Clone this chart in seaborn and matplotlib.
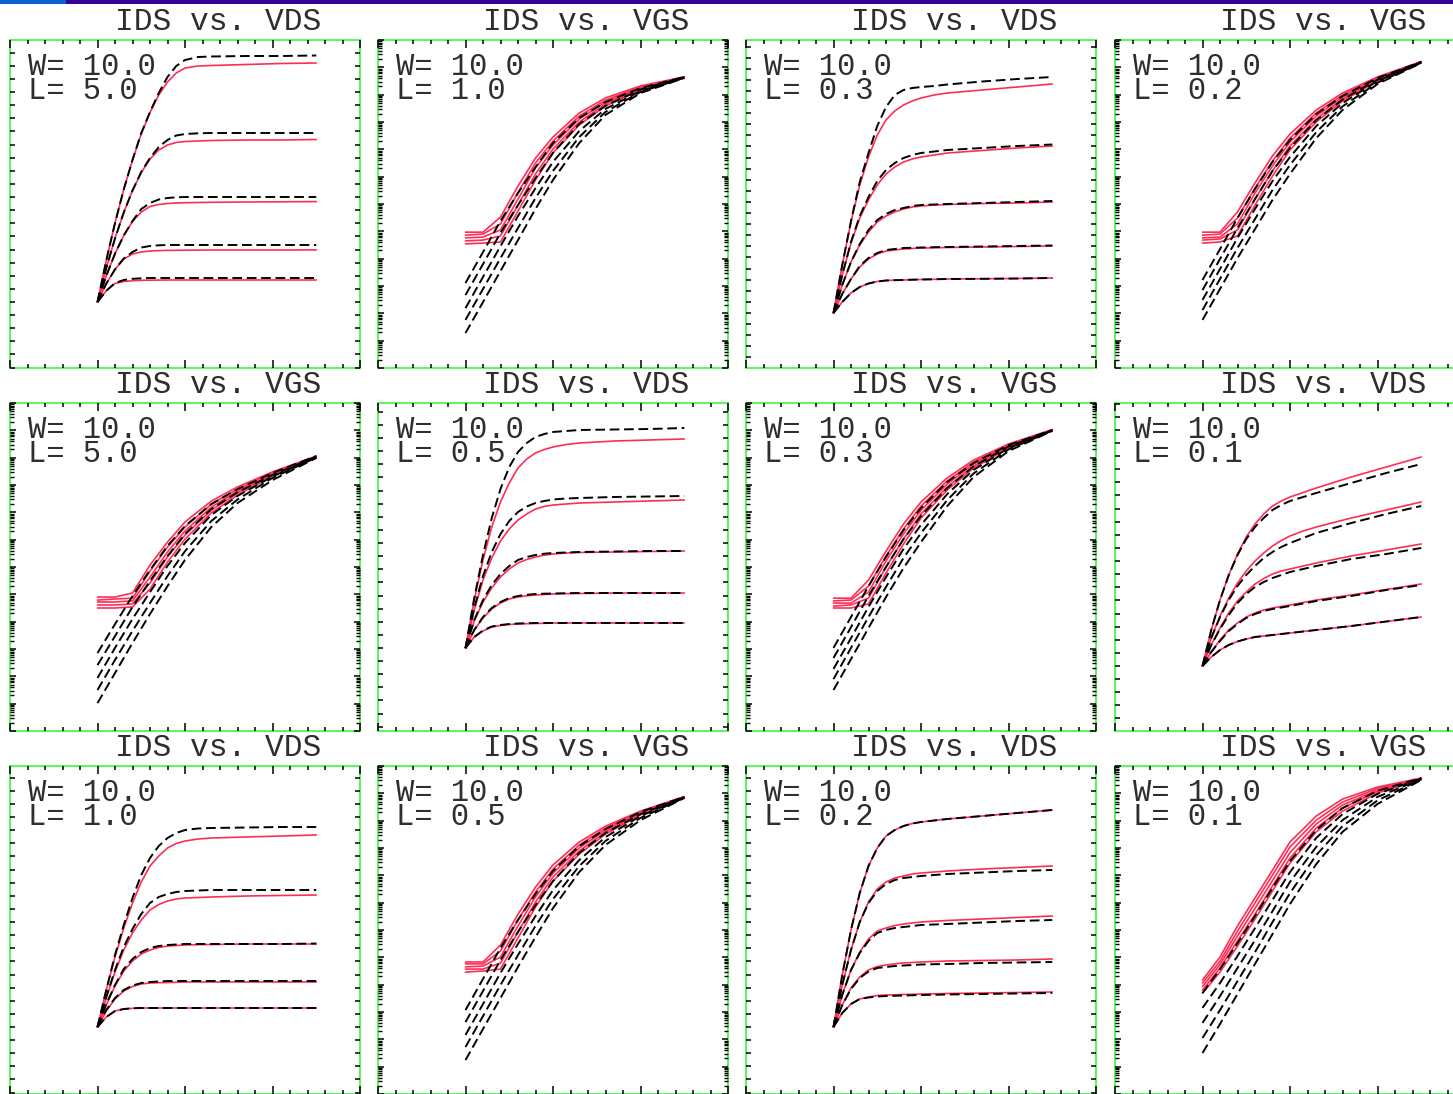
import numpy as np
import matplotlib
matplotlib.use("Agg")
import matplotlib.pyplot as plt
import seaborn as sns
from matplotlib.ticker import MultipleLocator, LogLocator, NullFormatter
from matplotlib.patches import Rectangle

# ---------------------------------------------------------------- sweep axes
vds = [0.0, 0.1, 0.2, 0.3, 0.4, 0.5, 0.6, 0.7, 0.8, 0.9, 1.0, 1.15, 1.3, 1.7, 2.1, 2.5]  # V
vgs = [0.0, 0.2, 0.4, 0.6, 0.8, 1.0, 1.3, 1.6, 2.0, 2.5]                                  # V

# ------------------------------------------- IDS [mA] vs VDS, five VGS steps
idvd_L5_meas = [
    [0, 0.415, 0.79, 1.126, 1.42, 1.68, 1.896, 2.07, 2.20, 2.29, 2.34, 2.36, 2.365, 2.375, 2.385, 2.39],
    [0, 0.338, 0.636, 0.895, 1.115, 1.295, 1.43, 1.52, 1.57, 1.595, 1.605, 1.61, 1.615, 1.62, 1.62, 1.625],
    [0, 0.261, 0.483, 0.665, 0.805, 0.90, 0.955, 0.975, 0.985, 0.99, 0.993, 0.995, 0.997, 1.0, 1.002, 1.004],
    [0, 0.183, 0.326, 0.43, 0.48, 0.50, 0.51, 0.514, 0.516, 0.517, 0.518, 0.519, 0.52, 0.52, 0.52, 0.521],
    [0, 0.112, 0.185, 0.205, 0.213, 0.217, 0.218, 0.219, 0.22, 0.22, 0.22, 0.22, 0.22, 0.22, 0.22, 0.22],
]
idvd_L5_sim = [
    [0, 0.415, 0.79, 1.126, 1.42, 1.69, 1.90, 2.09, 2.25, 2.36, 2.42, 2.45, 2.455, 2.46, 2.46, 2.465],
    [0, 0.338, 0.636, 0.895, 1.115, 1.30, 1.44, 1.55, 1.62, 1.665, 1.68, 1.687, 1.69, 1.69, 1.69, 1.69],
    [0, 0.261, 0.483, 0.665, 0.81, 0.93, 0.99, 1.025, 1.04, 1.047, 1.05, 1.05, 1.05, 1.05, 1.05, 1.05],
    [0, 0.183, 0.326, 0.435, 0.50, 0.545, 0.56, 0.567, 0.57, 0.57, 0.57, 0.57, 0.57, 0.57, 0.57, 0.57],
    [0, 0.112, 0.19, 0.22, 0.232, 0.237, 0.24, 0.24, 0.24, 0.24, 0.24, 0.24, 0.24, 0.24, 0.24, 0.24],
]
idvd_L03_meas = [
    [0, 0.48, 0.91, 1.28, 1.56, 1.78, 1.93, 2.02, 2.08, 2.12, 2.15, 2.18, 2.20, 2.23, 2.26, 2.29],
    [0, 0.38, 0.70, 0.95, 1.13, 1.28, 1.39, 1.46, 1.51, 1.54, 1.56, 1.58, 1.60, 1.625, 1.65, 1.67],
    [0, 0.28, 0.51, 0.68, 0.81, 0.91, 0.97, 1.01, 1.04, 1.06, 1.07, 1.08, 1.085, 1.095, 1.10, 1.11],
    [0, 0.19, 0.34, 0.46, 0.54, 0.59, 0.62, 0.63, 0.64, 0.645, 0.65, 0.652, 0.655, 0.66, 0.665, 0.67],
    [0, 0.11, 0.20, 0.26, 0.295, 0.315, 0.325, 0.328, 0.33, 0.333, 0.335, 0.337, 0.34, 0.342, 0.345, 0.35],
]
idvd_L03_sim = [
    [0, 0.48, 0.92, 1.31, 1.60, 1.87, 2.06, 2.18, 2.23, 2.25, 2.26, 2.27, 2.285, 2.315, 2.34, 2.36],
    [0, 0.38, 0.71, 0.97, 1.16, 1.32, 1.43, 1.50, 1.55, 1.58, 1.60, 1.615, 1.63, 1.65, 1.67, 1.685],
    [0, 0.28, 0.51, 0.69, 0.83, 0.93, 0.99, 1.03, 1.05, 1.07, 1.08, 1.085, 1.09, 1.10, 1.11, 1.12],
    [0, 0.19, 0.34, 0.47, 0.55, 0.60, 0.63, 0.64, 0.65, 0.652, 0.655, 0.658, 0.66, 0.665, 0.67, 0.675],
    [0, 0.11, 0.20, 0.26, 0.295, 0.315, 0.325, 0.328, 0.33, 0.333, 0.335, 0.337, 0.34, 0.342, 0.345, 0.35],
]
idvd_L05_meas = [
    [0, 0.48, 0.88, 1.21, 1.46, 1.65, 1.80, 1.89, 1.95, 1.985, 2.01, 2.035, 2.05, 2.07, 2.08, 2.09],
    [0, 0.38, 0.68, 0.90, 1.07, 1.19, 1.28, 1.34, 1.39, 1.415, 1.43, 1.44, 1.45, 1.46, 1.47, 1.48],
    [0, 0.27, 0.46, 0.60, 0.71, 0.79, 0.85, 0.885, 0.91, 0.928, 0.94, 0.95, 0.955, 0.96, 0.965, 0.97],
    [0, 0.18, 0.30, 0.39, 0.45, 0.49, 0.51, 0.522, 0.53, 0.535, 0.54, 0.543, 0.545, 0.55, 0.55, 0.55],
    [0, 0.11, 0.17, 0.21, 0.225, 0.235, 0.24, 0.243, 0.245, 0.247, 0.25, 0.25, 0.25, 0.25, 0.25, 0.25],
]
idvd_L05_sim = [
    [0, 0.50, 0.93, 1.30, 1.59, 1.81, 1.96, 2.05, 2.11, 2.14, 2.16, 2.17, 2.18, 2.185, 2.19, 2.20],
    [0, 0.40, 0.72, 0.96, 1.14, 1.27, 1.36, 1.415, 1.45, 1.47, 1.485, 1.495, 1.50, 1.51, 1.515, 1.52],
    [0, 0.28, 0.48, 0.63, 0.74, 0.82, 0.88, 0.91, 0.93, 0.943, 0.95, 0.955, 0.96, 0.965, 0.97, 0.97],
    [0, 0.18, 0.31, 0.40, 0.46, 0.50, 0.52, 0.532, 0.54, 0.543, 0.545, 0.548, 0.55, 0.55, 0.55, 0.55],
    [0, 0.11, 0.175, 0.215, 0.23, 0.24, 0.245, 0.248, 0.25, 0.25, 0.25, 0.25, 0.25, 0.25, 0.25, 0.25],
]
idvd_L01_meas = [
    [0, 0.36, 0.66, 0.91, 1.12, 1.29, 1.42, 1.52, 1.60, 1.65, 1.69, 1.735, 1.78, 1.89, 1.99, 2.09],
    [0, 0.28, 0.50, 0.68, 0.83, 0.95, 1.05, 1.13, 1.20, 1.255, 1.30, 1.35, 1.39, 1.48, 1.56, 1.64],
    [0, 0.21, 0.38, 0.53, 0.65, 0.74, 0.82, 0.875, 0.92, 0.95, 0.97, 1.00, 1.03, 1.10, 1.16, 1.22],
    [0, 0.14, 0.26, 0.36, 0.43, 0.49, 0.53, 0.56, 0.58, 0.595, 0.61, 0.635, 0.66, 0.71, 0.765, 0.82],
    [0, 0.09, 0.16, 0.21, 0.245, 0.27, 0.29, 0.30, 0.31, 0.32, 0.33, 0.345, 0.36, 0.40, 0.445, 0.49],
]
idvd_L01_sim = [
    [0, 0.36, 0.66, 0.91, 1.11, 1.27, 1.39, 1.48, 1.56, 1.61, 1.65, 1.69, 1.73, 1.83, 1.93, 2.02],
    [0, 0.28, 0.49, 0.66, 0.80, 0.91, 1.00, 1.08, 1.14, 1.19, 1.23, 1.28, 1.33, 1.43, 1.52, 1.60],
    [0, 0.21, 0.37, 0.51, 0.63, 0.72, 0.79, 0.84, 0.88, 0.91, 0.94, 0.97, 1.00, 1.07, 1.12, 1.18],
    [0, 0.14, 0.25, 0.35, 0.42, 0.48, 0.52, 0.55, 0.57, 0.585, 0.60, 0.625, 0.65, 0.70, 0.76, 0.81],
    [0, 0.09, 0.16, 0.21, 0.245, 0.27, 0.29, 0.30, 0.31, 0.32, 0.33, 0.345, 0.36, 0.40, 0.445, 0.49],
]
idvd_L1_meas = [
    [0, 0.37, 0.70, 0.99, 1.24, 1.45, 1.61, 1.71, 1.79, 1.835, 1.86, 1.88, 1.89, 1.90, 1.91, 1.92],
    [0, 0.29, 0.55, 0.77, 0.94, 1.07, 1.17, 1.225, 1.26, 1.28, 1.29, 1.295, 1.30, 1.31, 1.315, 1.32],
    [0, 0.22, 0.41, 0.56, 0.66, 0.73, 0.77, 0.795, 0.81, 0.815, 0.82, 0.823, 0.825, 0.83, 0.83, 0.83],
    [0, 0.16, 0.28, 0.36, 0.405, 0.43, 0.44, 0.443, 0.445, 0.447, 0.45, 0.45, 0.45, 0.45, 0.45, 0.45],
    [0, 0.10, 0.16, 0.18, 0.187, 0.19, 0.19, 0.19, 0.19, 0.19, 0.19, 0.19, 0.19, 0.19, 0.19, 0.19],
]
idvd_L1_sim = [
    [0, 0.37, 0.72, 1.02, 1.29, 1.52, 1.69, 1.81, 1.89, 1.94, 1.97, 1.985, 1.99, 1.995, 2.00, 2.00],
    [0, 0.30, 0.57, 0.80, 0.98, 1.13, 1.24, 1.30, 1.33, 1.35, 1.36, 1.365, 1.37, 1.37, 1.37, 1.37],
    [0, 0.23, 0.42, 0.58, 0.68, 0.75, 0.79, 0.81, 0.82, 0.825, 0.83, 0.83, 0.83, 0.83, 0.83, 0.835],
    [0, 0.17, 0.29, 0.37, 0.415, 0.44, 0.45, 0.455, 0.46, 0.46, 0.46, 0.46, 0.46, 0.46, 0.46, 0.46],
    [0, 0.10, 0.16, 0.18, 0.187, 0.19, 0.19, 0.19, 0.19, 0.19, 0.19, 0.19, 0.19, 0.19, 0.19, 0.19],
]
idvd_L02_meas = [
    [0, 0.52, 0.97, 1.34, 1.61, 1.79, 1.91, 1.97, 2.01, 2.035, 2.05, 2.065, 2.08, 2.11, 2.14, 2.17],
    [0, 0.42, 0.77, 1.05, 1.25, 1.38, 1.45, 1.49, 1.51, 1.53, 1.54, 1.55, 1.56, 1.58, 1.595, 1.61],
    [0, 0.32, 0.57, 0.75, 0.88, 0.96, 0.99, 1.015, 1.03, 1.04, 1.05, 1.058, 1.065, 1.08, 1.095, 1.11],
    [0, 0.22, 0.39, 0.50, 0.57, 0.605, 0.62, 0.632, 0.64, 0.645, 0.65, 0.655, 0.66, 0.665, 0.67, 0.68],
    [0, 0.14, 0.23, 0.28, 0.30, 0.315, 0.32, 0.322, 0.325, 0.327, 0.33, 0.332, 0.335, 0.34, 0.345, 0.35],
]
idvd_L02_sim = [
    [0, 0.52, 0.97, 1.34, 1.61, 1.79, 1.91, 1.97, 2.01, 2.035, 2.05, 2.065, 2.08, 2.11, 2.14, 2.17],
    [0, 0.42, 0.77, 1.05, 1.24, 1.36, 1.43, 1.47, 1.49, 1.50, 1.51, 1.52, 1.53, 1.545, 1.56, 1.57],
    [0, 0.32, 0.57, 0.74, 0.86, 0.94, 0.97, 0.99, 1.00, 1.01, 1.02, 1.025, 1.03, 1.045, 1.06, 1.07],
    [0, 0.22, 0.38, 0.49, 0.555, 0.59, 0.60, 0.61, 0.615, 0.62, 0.625, 0.628, 0.63, 0.64, 0.645, 0.65],
    [0, 0.14, 0.23, 0.28, 0.295, 0.305, 0.31, 0.312, 0.315, 0.317, 0.32, 0.322, 0.325, 0.33, 0.335, 0.34],
]

# --------------------------------- log10(IDS [A]) vs VGS, five VBS steps
idvg_L1_meas = [
    [-9.03, -9.03, -8.48, -7.34, -6.32, -5.55, -4.67, -4.12, -3.68, -3.35],
    [-9.14, -9.10, -8.73, -7.58, -6.50, -5.70, -4.78, -4.20, -3.72, -3.35],
    [-9.24, -9.21, -8.95, -7.82, -6.68, -5.84, -4.89, -4.27, -3.76, -3.37],
    [-9.35, -9.32, -9.17, -8.04, -6.90, -5.99, -5.00, -4.34, -3.79, -3.38],
    [-9.46, -9.43, -9.39, -8.26, -7.12, -6.13, -5.11, -4.41, -3.83, -3.39],
]
idvg_L1_sim = [
    [-10.89, -9.76, -8.62, -7.60, -6.65, -5.77, -4.85, -4.27, -3.76, -3.35],
    [-11.33, -10.20, -9.06, -8.04, -7.05, -6.13, -5.07, -4.41, -3.81, -3.36],
    [-11.81, -10.67, -9.54, -8.44, -7.42, -6.46, -5.33, -4.52, -3.87, -3.38],
    [-12.24, -11.11, -9.98, -8.88, -7.78, -6.79, -5.55, -4.63, -3.90, -3.38],
    [-12.72, -11.59, -10.45, -9.32, -8.18, -7.12, -5.77, -4.74, -3.94, -3.39],
]
idvg_L02_meas = [
    [-9.03, -9.03, -8.29, -7.23, -6.24, -5.44, -4.56, -3.94, -3.35, -2.79],
    [-9.14, -9.10, -8.51, -7.42, -6.43, -5.59, -4.67, -4.01, -3.39, -2.79],
    [-9.24, -9.21, -8.73, -7.60, -6.61, -5.73, -4.78, -4.09, -3.43, -2.80],
    [-9.32, -9.28, -8.95, -7.82, -6.79, -5.88, -4.89, -4.16, -3.46, -2.81],
    [-9.43, -9.39, -9.17, -8.04, -6.98, -6.02, -5.00, -4.23, -3.50, -2.82],
]
idvg_L02_sim = [
    [-10.78, -9.65, -8.51, -7.45, -6.46, -5.66, -4.71, -4.05, -3.39, -2.80],
    [-11.15, -10.01, -8.88, -7.82, -6.79, -5.95, -4.93, -4.18, -3.45, -2.81],
    [-11.51, -10.38, -9.24, -8.18, -7.16, -6.28, -5.15, -4.31, -3.50, -2.82],
    [-11.88, -10.74, -9.61, -8.55, -7.49, -6.57, -5.37, -4.43, -3.56, -2.83],
    [-12.24, -11.11, -9.98, -8.92, -7.85, -6.90, -5.59, -4.56, -3.61, -2.84],
]
idvg_L5_meas = [
    [-9.10, -9.10, -8.95, -7.93, -7.09, -6.35, -5.59, -5.07, -4.52, -3.94],
    [-9.21, -9.17, -9.14, -8.15, -7.27, -6.54, -5.70, -5.15, -4.56, -3.96],
    [-9.28, -9.28, -9.24, -8.37, -7.45, -6.68, -5.81, -5.22, -4.60, -3.98],
    [-9.39, -9.39, -9.35, -8.59, -7.63, -6.83, -5.92, -5.29, -4.63, -3.99],
    [-9.50, -9.50, -9.46, -8.81, -7.82, -6.98, -6.02, -5.37, -4.67, -4.01],
]
idvg_L5_sim = [
    [-11.15, -10.09, -9.06, -8.11, -7.23, -6.50, -5.70, -5.15, -4.56, -3.94],
    [-11.59, -10.53, -9.46, -8.51, -7.60, -6.79, -5.88, -5.27, -4.63, -3.96],
    [-12.06, -10.96, -9.90, -8.92, -7.96, -7.12, -6.10, -5.40, -4.69, -3.98],
    [-12.50, -11.40, -10.34, -9.32, -8.33, -7.42, -6.32, -5.53, -4.74, -3.99],
    [-12.98, -11.88, -10.78, -9.72, -8.70, -7.74, -6.54, -5.66, -4.82, -4.01],
]
idvg_L03_meas = [
    [-9.14, -9.14, -8.48, -7.42, -6.43, -5.62, -4.74, -4.09, -3.50, -2.97],
    [-9.24, -9.21, -8.70, -7.60, -6.61, -5.77, -4.85, -4.16, -3.54, -2.98],
    [-9.32, -9.32, -8.92, -7.78, -6.79, -5.92, -4.96, -4.23, -3.57, -2.99],
    [-9.43, -9.39, -9.14, -8.00, -6.98, -6.06, -5.07, -4.31, -3.61, -3.00],
    [-9.50, -9.50, -9.35, -8.22, -7.16, -6.21, -5.18, -4.38, -3.65, -3.01],
]
idvg_L03_sim = [
    [-10.96, -9.83, -8.70, -7.63, -6.65, -5.84, -4.89, -4.20, -3.54, -2.99],
    [-11.33, -10.20, -9.06, -8.00, -6.98, -6.13, -5.11, -4.32, -3.59, -3.00],
    [-11.73, -10.60, -9.46, -8.37, -7.34, -6.46, -5.33, -4.45, -3.65, -3.01],
    [-12.10, -10.96, -9.83, -8.73, -7.67, -6.76, -5.55, -4.58, -3.70, -3.01],
    [-12.50, -11.37, -10.23, -9.10, -8.04, -7.09, -5.77, -4.71, -3.76, -3.02],
]
idvg_L05_meas = [
    [-9.17, -9.17, -8.55, -7.42, -6.43, -5.62, -4.78, -4.20, -3.65, -3.12],
    [-9.24, -9.24, -8.77, -7.63, -6.61, -5.77, -4.89, -4.27, -3.68, -3.12],
    [-9.35, -9.32, -8.99, -7.85, -6.79, -5.92, -5.00, -4.34, -3.72, -3.13],
    [-9.43, -9.43, -9.21, -8.07, -6.98, -6.06, -5.11, -4.41, -3.76, -3.14],
    [-9.54, -9.50, -9.43, -8.29, -7.16, -6.21, -5.22, -4.49, -3.79, -3.15],
]
idvg_L05_sim = [
    [-10.93, -9.79, -8.66, -7.63, -6.68, -5.84, -4.93, -4.31, -3.68, -3.13],
    [-11.37, -10.23, -9.10, -8.07, -7.09, -6.21, -5.18, -4.45, -3.76, -3.14],
    [-11.84, -10.71, -9.57, -8.51, -7.49, -6.54, -5.44, -4.60, -3.83, -3.15],
    [-12.28, -11.15, -10.01, -8.92, -7.85, -6.87, -5.66, -4.74, -3.90, -3.16],
    [-12.76, -11.62, -10.49, -9.35, -8.26, -7.20, -5.88, -4.89, -3.98, -3.17],
]
idvg_L01_meas = [
    [-9.83, -8.99, -7.85, -6.83, -5.81, -4.78, -3.83, -3.21, -2.77, -2.44],
    [-9.94, -9.14, -8.04, -7.01, -5.99, -4.96, -3.98, -3.32, -2.82, -2.45],
    [-10.07, -9.26, -8.22, -7.21, -6.19, -5.17, -4.12, -3.43, -2.88, -2.46],
    [-10.20, -9.39, -8.40, -7.42, -6.39, -5.37, -4.27, -3.54, -2.93, -2.46],
    [-10.31, -9.54, -8.59, -7.60, -6.57, -5.55, -4.41, -3.65, -2.99, -2.48],
]
idvg_L01_sim = [
    [-10.31, -9.43, -8.48, -7.49, -6.46, -5.48, -4.34, -3.54, -2.91, -2.44],
    [-10.85, -9.94, -8.95, -7.93, -6.90, -5.88, -4.63, -3.76, -3.02, -2.46],
    [-11.40, -10.42, -9.39, -8.37, -7.31, -6.24, -4.96, -3.98, -3.13, -2.48],
    [-11.95, -10.93, -9.87, -8.81, -7.71, -6.65, -5.26, -4.20, -3.26, -2.49],
    [-12.50, -11.44, -10.34, -9.24, -8.15, -7.05, -5.59, -4.41, -3.39, -2.51],
]

W_um = 10.0
panels = [
    ("VDS", 5.0, idvd_L5_meas, idvd_L5_sim),
    ("VGS", 1.0, idvg_L1_meas, idvg_L1_sim),
    ("VDS", 0.3, idvd_L03_meas, idvd_L03_sim),
    ("VGS", 0.2, idvg_L02_meas, idvg_L02_sim),
    ("VGS", 5.0, idvg_L5_meas, idvg_L5_sim),
    ("VDS", 0.5, idvd_L05_meas, idvd_L05_sim),
    ("VGS", 0.3, idvg_L03_meas, idvg_L03_sim),
    ("VDS", 0.1, idvd_L01_meas, idvd_L01_sim),
    ("VDS", 1.0, idvd_L1_meas, idvd_L1_sim),
    ("VGS", 0.5, idvg_L05_meas, idvg_L05_sim),
    ("VDS", 0.2, idvd_L02_meas, idvd_L02_sim),
    ("VGS", 0.1, idvg_L01_meas, idvg_L01_sim),
]

# linear current axis of each output plot: lower limit and tick pitch [mA]
vds_ylow = {5.0: -0.66, 0.3: -0.55, 0.5: -0.83, 0.1: -0.65, 1.0: -0.67, 0.2: -0.67}
vds_ystep = {5.0: 0.1312, 0.3: 0.111, 0.5: 0.1312, 0.1: 0.1312, 1.0: 0.1312, 0.2: 0.1312}
Y_SPAN = 3.28

# ---------------------------------------------------------------- styling
sns.set_style("white")
plt.rcParams["font.family"] = ["Liberation Mono", "DejaVu Sans Mono"]

RED = "#ff2d55"
GREEN = "#62f262"
INK = "#2e2e2e"
DASH = (0, (5.0, 2.4))

FW, FH = 1453, 1094
fig = plt.figure(figsize=(FW / 100, FH / 100), dpi=100)
fig.patch.set_facecolor("white")

col_x = [10, 378, 746, 1115]
row_y = [40, 403, 766]
BW, BH = 350, 328

# banner strip along the top edge
fig.add_artist(Rectangle((0, 1 - 3.5 / FH), 66 / FW, 3.5 / FH, transform=fig.transFigure,
                         facecolor="#0c62cf", edgecolor="none"))
fig.add_artist(Rectangle((66 / FW, 1 - 3.5 / FH), 1 - 66 / FW, 3.5 / FH,
                         transform=fig.transFigure, facecolor="#340098", edgecolor="none"))

for i, (kind, L, meas, sim) in enumerate(panels):
    r, c = divmod(i, 4)
    ax = fig.add_axes([col_x[c] / FW, 1 - (row_y[r] + BH) / FH, BW / FW, BH / FH])
    ax.set_facecolor("white")

    if kind == "VDS":
        for curve in meas:
            sns.lineplot(x=vds, y=curve, ax=ax, color=RED, linewidth=1.2,
                         estimator=None, sort=False, legend=False)
        for curve in sim:
            sns.lineplot(x=vds, y=curve, ax=ax, color="black", linewidth=1.4,
                         linestyle=DASH, estimator=None, sort=False, legend=False)
        lo = vds_ylow[L]
        ax.set_ylim(lo, lo + Y_SPAN)
        ax.yaxis.set_major_locator(MultipleLocator(vds_ystep[L]))
        ax.tick_params(axis="y", which="major", length=3.4, width=1.1)
    else:
        for curve in meas:
            sns.lineplot(x=vgs, y=10.0 ** np.asarray(curve), ax=ax, color=RED,
                         linewidth=1.2, estimator=None, sort=False, legend=False)
        for curve in sim:
            sns.lineplot(x=vgs, y=10.0 ** np.asarray(curve), ax=ax, color="black",
                         linewidth=1.4, linestyle=DASH, estimator=None, sort=False,
                         legend=False)
        ax.set_yscale("log")
        ax.set_ylim(1e-14, 1e-2)
        ax.yaxis.set_major_locator(LogLocator(base=10, numticks=30))
        ax.yaxis.set_minor_locator(LogLocator(base=10, subs=np.arange(2, 10), numticks=30))
        ax.yaxis.set_minor_formatter(NullFormatter())
        ax.tick_params(axis="y", which="major", length=4.0, width=1.1)
        ax.tick_params(axis="y", which="minor", length=2.6, width=1.0)

    ax.set_xlim(-1, 3)
    ax.xaxis.set_major_locator(MultipleLocator(1.0))
    ax.xaxis.set_minor_locator(MultipleLocator(0.2))
    ax.tick_params(axis="x", which="major", length=6.0, width=1.1)
    ax.tick_params(axis="x", which="minor", length=3.0, width=1.1)
    ax.tick_params(which="both", direction="in", top=True, right=True, bottom=True,
                   left=True, labelbottom=False, labelleft=False, colors="black")
    ax.set_xlabel("")
    ax.set_ylabel("")
    for s in ax.spines.values():
        s.set_color(GREEN)
        s.set_linewidth(1.5)
        s.set_zorder(0.5)

    ax.text(0.596, 1 + 10 / BH, f"IDS vs. {kind}", transform=ax.transAxes,
            ha="center", va="baseline", fontsize=22.5, color=INK)
    # device geometry, two tightly stacked lines (anchored on the last baseline)
    ax.text(18 / BW, 1 - 59 / BH, f"W= {W_um:.1f}\nL= {L:.1f}", transform=ax.transAxes,
            ha="left", va="baseline", fontsize=22, color=INK, linespacing=0.76)

fig.savefig("out.png", dpi=100, facecolor="white")
